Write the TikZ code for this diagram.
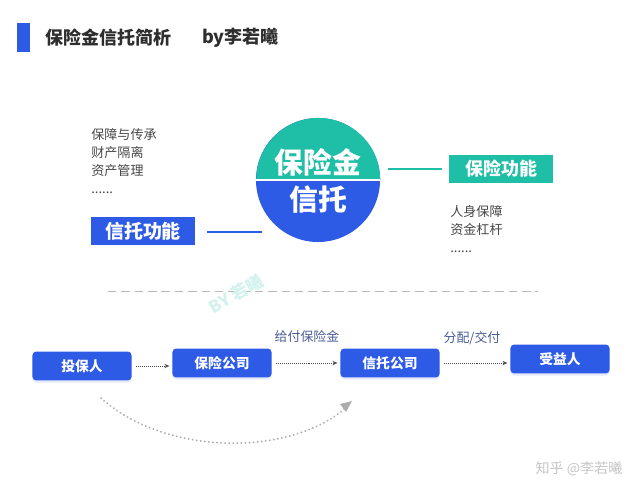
\documentclass[tikz,border=0pt]{standalone}
\usepackage{fontspec}
\setmainfont{Noto Sans CJK SC}
\usetikzlibrary{arrows.meta,positioning,calc,shadows}
\definecolor{mainblue}{HTML}{2D5BE6}
\definecolor{mainteal}{HTML}{1EBFA6}
\definecolor{txtgray}{HTML}{474747}
\definecolor{lblblue}{HTML}{4A5C94}
\begin{document}
\begin{tikzpicture}[x=0.025cm, y=-0.025cm,
  fnbox/.style={fill=#1, text=white, font=\fontsize{13.5}{14}\selectfont\bfseries, minimum width=2.6cm, minimum height=0.7cm, inner sep=0pt},
  party/.style={fill=mainblue, rounded corners=2.5pt, text=white, font=\fontsize{9.8}{10}\selectfont\bfseries, minimum width=2.475cm, minimum height=0.72cm, inner sep=0pt,
    drop shadow={fill=mainblue!20, opacity=0.6, shadow xshift=0pt, shadow yshift=-1.6pt}},
  list/.style={anchor=north west, align=left, text=txtgray, font=\fontsize{9.3}{12.8}\selectfont, inner sep=0pt},
  flow/.style={gray!60!black, densely dotted, -{Stealth[length=3.5pt, width=3pt]}},
  lab/.style={text=lblblue, font=\fontsize{9.2}{10}\selectfont}]
  \useasboundingbox (0,0) rectangle (633,500);
  % heading
  \fill[mainblue] (17,23) rectangle (30,52);
  \node[anchor=west, inner sep=0pt, text=black!82, font=\fontsize{12.8}{13}\selectfont\bfseries] (title) at (45,38) {保险金信托简析};
  \node[anchor=west, inner sep=0pt, text=black!82, font=\fontsize{12.8}{13}\selectfont\bfseries] (byline) at (202,38) {by李若曦};
  % core circle
  \node[circle, fill=mainblue, minimum size=3.1cm, inner sep=0pt] (core) at (318,180) {};
  \fill[mainteal] (core.east) arc[start angle=0, end angle=180, radius=1.55cm] -- cycle;
  \draw[white, line width=1.8pt] (core.west) -- (core.east);
  \node[text=white, font=\fontsize{20.5}{21}\selectfont\bfseries] (ins) at (318,162) {保险金};
  \node[text=white, font=\fontsize{20.5}{21}\selectfont\bfseries] (trust) at (318,200) {信托};
  % trust function
  \node[list] (tlist) at (91,128) {保障与传承\\财产隔离\\资产管理\\......};
  \node[fnbox=mainblue] (tfun) at (143,231) {信托功能};
  \coordinate (tj) at (262,232);
  \draw[mainblue, line width=1.4pt, shorten <=12*0.025cm] (tfun.east |- tj) -- (tj);
  % insurance function
  \node[fnbox=mainteal, font=\fontsize{12.8}{13}\selectfont\bfseries] (ifun) at (501,169) {保险功能};
  \coordinate (ij) at (388,169);
  \draw[mainteal, line width=1.4pt, shorten <=7*0.025cm] (ifun.west) -- (ij);
  \node[list] (ilist) at (450,205) {人身保障\\资金杠杆\\......};
  % separator
  \draw[gray!55, dash pattern=on 6pt off 3.5pt, line width=0.7pt] (108,291) -- (538,291);
  \node[rotate=30, text=mainteal!20, font=\fontsize{12}{12}\selectfont\bfseries] (wm) at (236,294) {BY 若曦};
  % flow
  \node[party] (p1) at (82,366) {投保人};
  \node[party] (p2) at (222,363) {保险公司};
  \node[party] (p3) at (390,363) {信托公司};
  \node[party] (p4) at (560,359) {受益人};
  \foreach \a/\b in {p1/p2, p2/p3, p3/p4}
    \draw[flow, shorten <=3pt, shorten >=2pt] (\a.east) -- (\b.west |- \a.east);
  \node[lab] (pay) at (307,337) {给付保险金};
  \node[lab] (dist) at (472,338) {分配/交付};
  \coordinate (cs) at (101,398);
  \coordinate (ce) at (349,405);
  \draw[gray!65, line width=1.4pt, dash pattern=on 0.1pt off 2.8pt, line cap=round] (cs) .. controls (165,456) and (292,458) .. (ce);
  \fill[gray!65] (ce) ++(3,-4) -- ++(-12,3) -- ++(6,8) -- cycle;
  \node[text=gray!45, font=\fontsize{10}{10}\selectfont] (zh) at (579,469) {知乎 @李若曦};
\end{tikzpicture}
\end{document}
